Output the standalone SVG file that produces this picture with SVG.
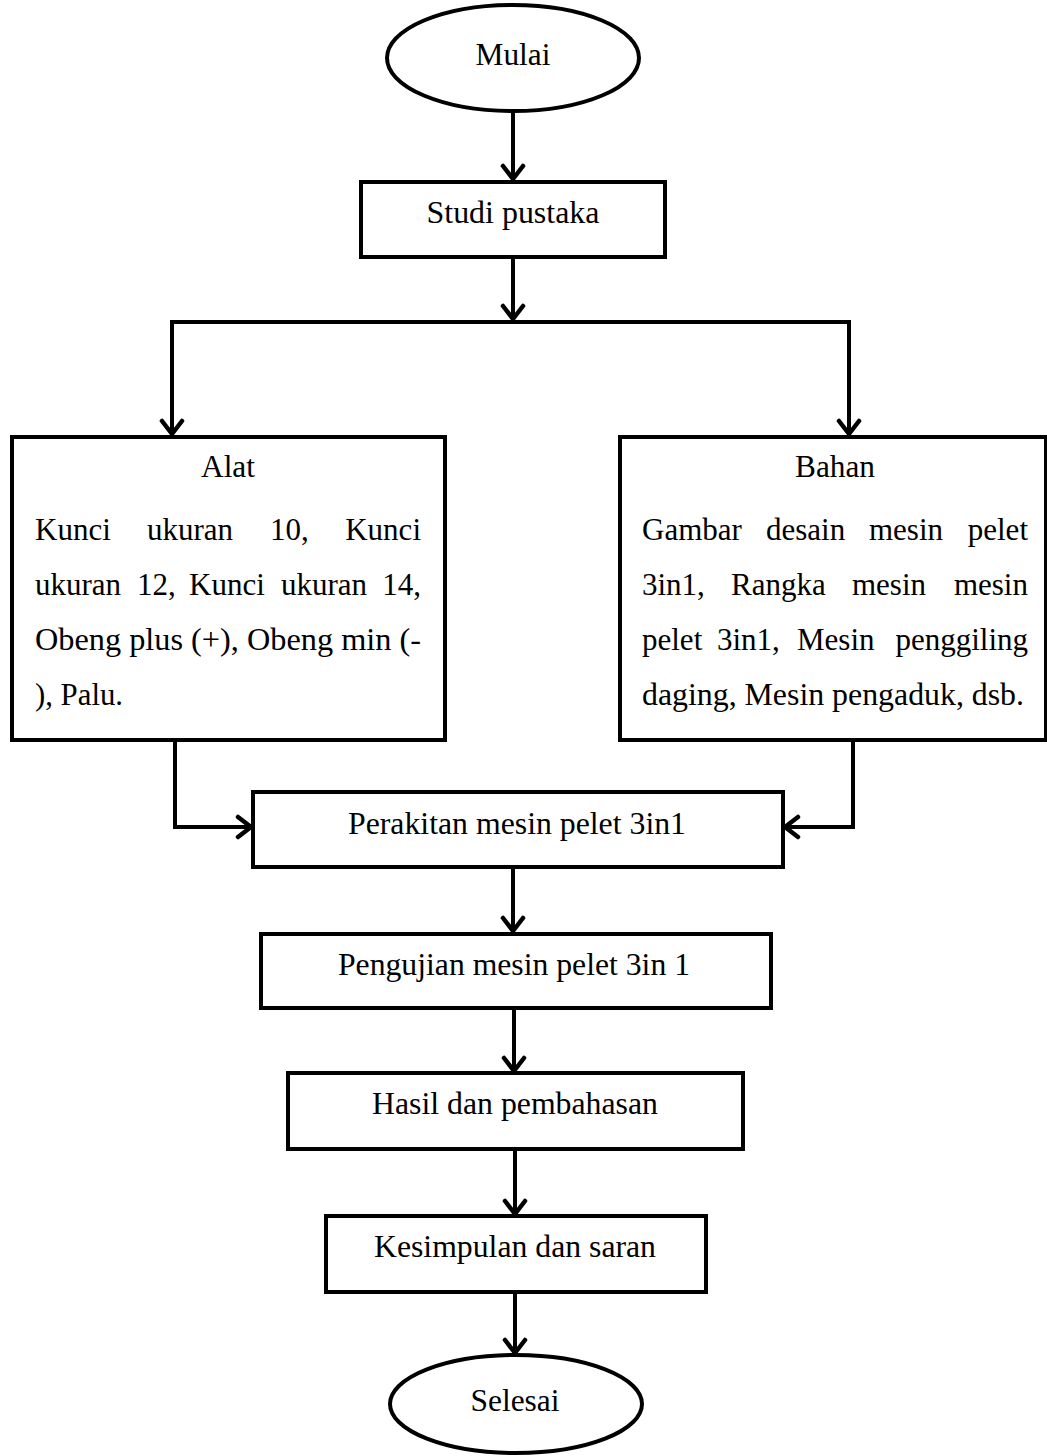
<svg xmlns="http://www.w3.org/2000/svg" width="1047" height="1456" viewBox="0 0 1047 1456">
<style>
.shape{fill:#fff;stroke:#000;stroke-width:4}
.conn{fill:none;stroke:#000;stroke-width:4;stroke-linejoin:miter}
text{font-family:"Liberation Serif","Times New Roman",serif;font-size:31px;fill:#000}
.c{text-anchor:middle}
.e{text-anchor:end}
</style>
<defs>
<marker id="ah" viewBox="-2 -2 19 26" refX="14" refY="11" markerWidth="19" markerHeight="26" markerUnits="userSpaceOnUse" orient="auto">
<path d="M1,1 L14,11 L1,21" fill="none" stroke="#000" stroke-width="4.5" stroke-linecap="round" stroke-linejoin="round"/>
</marker>
</defs>
<g id="connectors">
<path class="conn" d="M513,113 L513,179" marker-end="url(#ah)"/>
<path class="conn" d="M513,257 L513,319" marker-end="url(#ah)"/>
<path class="conn" d="M513,322 L172,322 L172,434" marker-end="url(#ah)"/>
<path class="conn" d="M513,322 L849,322 L849,434" marker-end="url(#ah)"/>
<path class="conn" d="M175,740 L175,827 L251,827" marker-end="url(#ah)"/>
<path class="conn" d="M853,740 L853,827 L785,827" marker-end="url(#ah)"/>
<path class="conn" d="M513,867 L513,931" marker-end="url(#ah)"/>
<path class="conn" d="M514,1008 L514,1071" marker-end="url(#ah)"/>
<path class="conn" d="M515,1149 L515,1214" marker-end="url(#ah)"/>
<path class="conn" d="M515,1292 L515,1353" marker-end="url(#ah)"/>
</g>
<g id="mulai">
<ellipse class="shape" cx="513" cy="58" rx="126" ry="53"/>
<text class="c" x="513" y="65" textLength="75" lengthAdjust="spacingAndGlyphs">Mulai</text>
</g>
<g id="studi">
<rect class="shape" x="361" y="182" width="304" height="75"/>
<text class="c" x="513" y="223" textLength="173" lengthAdjust="spacingAndGlyphs">Studi pustaka</text>
</g>
<g id="alat">
<rect class="shape" x="12" y="437" width="433" height="303"/>
<text class="c" x="228" y="477" textLength="54" lengthAdjust="spacingAndGlyphs">Alat</text>
<text x="35" y="540">Kunci</text>
<text x="147" y="540">ukuran</text>
<text x="270" y="540">10,</text>
<text class="e" x="421" y="540">Kunci</text>
<text x="35" y="595">ukuran</text>
<text x="137" y="595">12,</text>
<text x="189" y="595">Kunci</text>
<text x="281" y="595">ukuran</text>
<text class="e" x="421" y="595">14,</text>
<text x="35" y="650" textLength="386" lengthAdjust="spacingAndGlyphs">Obeng plus (+), Obeng min (-</text>
<text x="35" y="705" textLength="88" lengthAdjust="spacingAndGlyphs">), Palu.</text>
</g>
<g id="bahan">
<rect class="shape" x="620" y="437" width="426" height="303"/>
<text class="c" x="835" y="477" textLength="80" lengthAdjust="spacingAndGlyphs">Bahan</text>
<text x="642" y="540">Gambar</text>
<text x="766" y="540">desain</text>
<text x="869" y="540">mesin</text>
<text class="e" x="1028" y="540">pelet</text>
<text x="642" y="595">3in1,</text>
<text x="731" y="595">Rangka</text>
<text x="852" y="595">mesin</text>
<text class="e" x="1028" y="595">mesin</text>
<text x="642" y="650">pelet</text>
<text x="717" y="650">3in1,</text>
<text x="797" y="650">Mesin</text>
<text class="e" x="1028" y="650">penggiling</text>
<text x="642" y="705" textLength="382" lengthAdjust="spacingAndGlyphs">daging, Mesin pengaduk, dsb.</text>
</g>
<g id="perakitan">
<rect class="shape" x="253" y="792" width="530" height="75"/>
<text class="c" x="517" y="834" textLength="338" lengthAdjust="spacingAndGlyphs">Perakitan mesin pelet 3in1</text>
</g>
<g id="pengujian">
<rect class="shape" x="261" y="934" width="510" height="74"/>
<text class="c" x="514" y="975" textLength="352" lengthAdjust="spacingAndGlyphs">Pengujian mesin pelet 3in 1</text>
</g>
<g id="hasil">
<rect class="shape" x="288" y="1073" width="455" height="76"/>
<text class="c" x="515" y="1114" textLength="286" lengthAdjust="spacingAndGlyphs">Hasil dan pembahasan</text>
</g>
<g id="kesimpulan">
<rect class="shape" x="326" y="1216" width="380" height="76"/>
<text class="c" x="515" y="1257" textLength="282" lengthAdjust="spacingAndGlyphs">Kesimpulan dan saran</text>
</g>
<g id="selesai">
<ellipse class="shape" cx="516" cy="1404" rx="126" ry="49"/>
<text class="c" x="515" y="1411" textLength="89" lengthAdjust="spacingAndGlyphs">Selesai</text>
</g>
</svg>
